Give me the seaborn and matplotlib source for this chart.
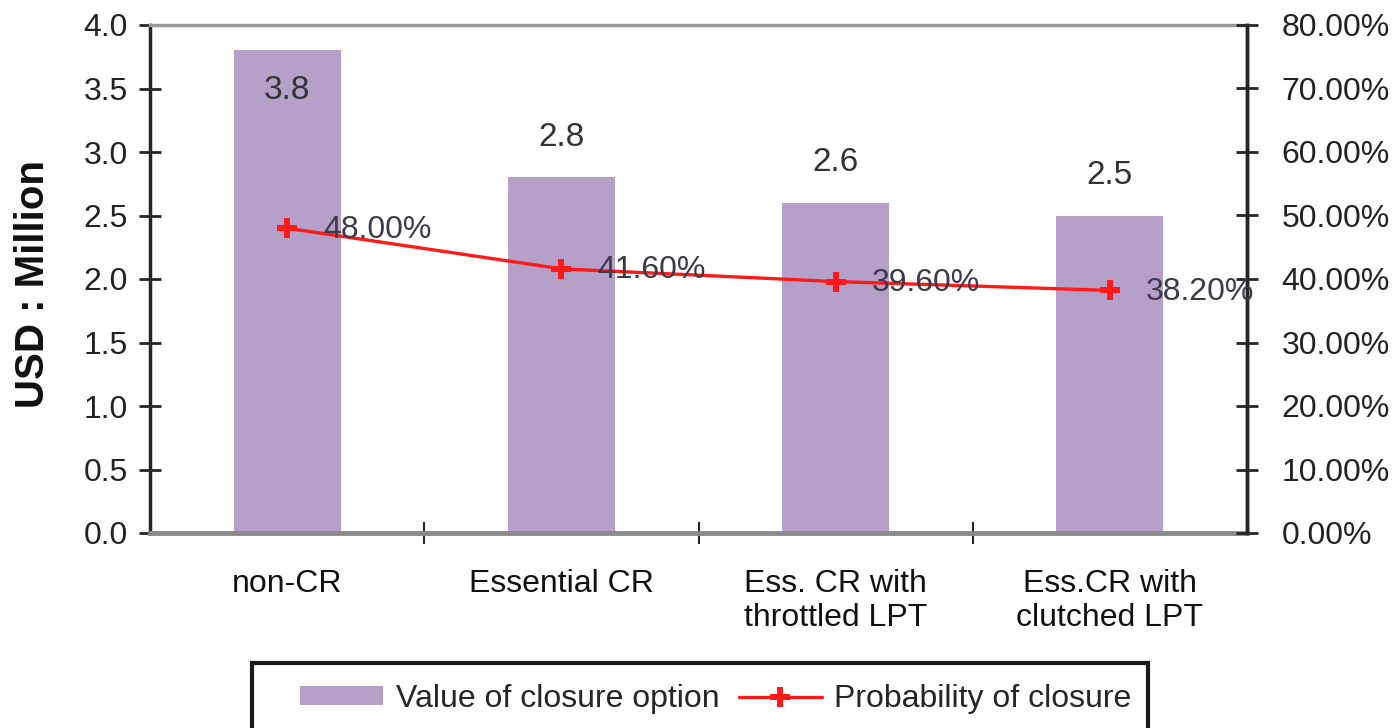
import numpy as np
import matplotlib
matplotlib.use("Agg")
import matplotlib.pyplot as plt
from matplotlib.patches import Rectangle, Patch
from matplotlib.lines import Line2D
from matplotlib.ticker import FuncFormatter, FixedLocator
import seaborn as sns

# Chart data
categories = ["non-CR", "Essential CR", "Ess. CR with\nthrottled LPT", "Ess.CR with\nclutched LPT"]
closure_value = [3.8, 2.8, 2.6, 2.5]          # USD million
closure_prob = [0.48, 0.416, 0.396, 0.382]    # probability of closure
value_ticks = [0.0, 0.5, 1.0, 1.5, 2.0, 2.5, 3.0, 3.5, 4.0]
prob_ticks = [0.0, 0.1, 0.2, 0.3, 0.4, 0.5, 0.6, 0.7, 0.8]

BAR = "#B4A0C8"
RED = "#FF1A1A"
DARK = "#262626"

sns.set_theme(style="white")
plt.rcParams["font.family"] = ["Liberation Sans", "DejaVu Sans"]

fig = plt.figure(figsize=(13.98, 7.28), dpi=100)
ax = fig.add_axes([150 / 1398, 1 - 533 / 728, 1097 / 1398, 508 / 728])

positions = np.arange(len(categories))
sns.barplot(x=positions, y=closure_value, color=BAR, saturation=1, width=0.39,
            ax=ax, native_scale=True, edgecolor="none")
ax.set_xlim(-0.5, len(categories) - 0.5)
ax.set_ylim(0, 4.0)

# value labels: inside the tallest bar, above the others
for i, v in enumerate(closure_value):
    off = -29 if v >= 3.5 else 29
    ax.annotate(f"{v:.1f}", (positions[i], v), xytext=(0, off), textcoords="offset points",
                ha="center", va="center", fontsize=24, color="#333333")

ax.yaxis.set_major_locator(FixedLocator(value_ticks))
ax.yaxis.set_major_formatter(FuncFormatter(lambda y, _: f"{y:.1f}"))
ax.set_xticks(positions)
ax.set_xticklabels(categories, fontsize=23, color="#111111", linespacing=1.15)
ax.set_xticks(positions[:-1] + 0.5, minor=True)
ax.tick_params(axis="x", which="major", length=0, pad=26)
ax.tick_params(axis="x", which="minor", length=16, width=1.5, direction="inout",
               color=DARK, bottom=True)
ax.tick_params(axis="y", which="major", length=16, width=2, direction="inout",
               color=DARK, labelsize=23, labelcolor="#222222", pad=8, left=True)
ax.set_xlabel("")
ax.set_ylabel("USD : Million", fontsize=29, fontweight="bold", color="#111111")
ax.yaxis.set_label_coords(-0.089, 0.49)

for side, col, lw in [("top", "#9a9a9a", 2.5), ("bottom", "#8a8a8a", 3.5),
                      ("left", DARK, 2.5), ("right", DARK, 2.5)]:
    ax.spines[side].set_color(col)
    ax.spines[side].set_linewidth(lw)

# probability line on the secondary axis
ax2 = ax.twinx()
sns.lineplot(x=positions, y=closure_prob, ax=ax2, color=RED, linewidth=2.4,
             marker="P", markersize=15, markeredgewidth=0, markerfacecolor=RED)
ax2.set_ylim(0, 0.8)
ax2.yaxis.set_major_locator(FixedLocator(prob_ticks))
ax2.yaxis.set_major_formatter(FuncFormatter(lambda y, _: f"{y * 100:.2f}%"))
ax2.tick_params(axis="y", which="major", length=16, width=2, direction="inout",
                color=DARK, labelsize=23, labelcolor="#222222", pad=17, right=True)
ax2.set_xlim(-0.5, len(categories) - 0.5)
ax2.set_ylabel("")
ax2.set_xlabel("")
for s in ax2.spines.values():
    s.set_visible(False)
ax2.spines["right"].set_visible(True)
ax2.spines["right"].set_color(DARK)
ax2.spines["right"].set_linewidth(2.5)

for i, p in enumerate(closure_prob):
    ax2.annotate(f"{p * 100:.2f}%", (positions[i], p), xytext=(26, -1),
                 textcoords="offset points", ha="left", va="center",
                 fontsize=23, color="#3a3a4a")

# legend in a box along the bottom edge
handles = [Patch(facecolor=BAR, edgecolor="none"),
           Line2D([0], [0], color=RED, linewidth=2.4, marker="P", markersize=15,
                  markeredgewidth=0)]
fig.legend(handles, ["Value of closure option", "Probability of closure"],
           loc="center left", bbox_to_anchor=(300 / 1398, 1 - 699 / 728),
           ncol=2, frameon=False, fontsize=23, handlelength=2.6, handleheight=0.55,
           handletextpad=0.4, columnspacing=0.6, borderpad=0, borderaxespad=0)
fig.patches.append(Rectangle((252 / 1398, 1 - 740 / 728), 896 / 1398, 77 / 728,
                             transform=fig.transFigure, fill=False,
                             edgecolor="#1a1a1a", linewidth=3))

fig.savefig("out.png", dpi=100)
